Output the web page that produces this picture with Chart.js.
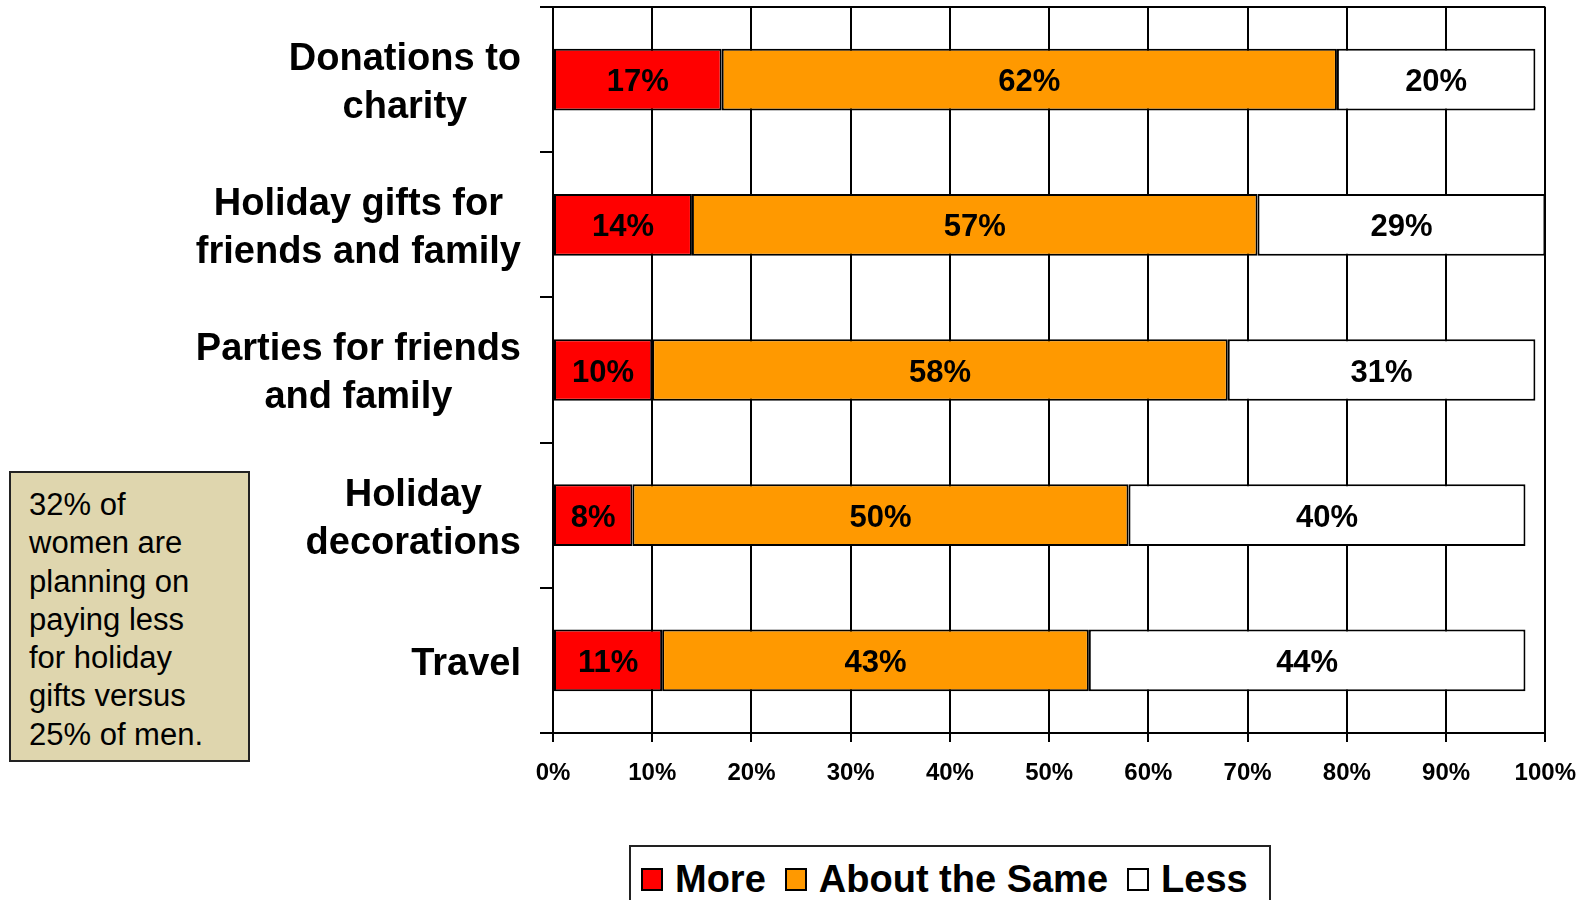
<!DOCTYPE html>
<html>
<head>
<meta charset="utf-8">
<script src="https://cdn.jsdelivr.net/npm/chart.js@4.4.0/dist/chart.umd.min.js"></script>
<style>
  body { margin: 0; background: #fff; overflow: hidden; font-family: "Liberation Sans", Arial, sans-serif; }
  #wrap { position: relative; width: 1593px; height: 900px; }
  #note {
    position: absolute; left: 9px; top: 471px; width: 241px; height: 291px;
    background: #dfd6ae; border: 2px solid #222; box-sizing: border-box;
    padding: 13px 0 0 18px; font-size: 31px; line-height: 38.3px; color: #000;
  }
  #legend {
    position: absolute; left: 629px; top: 845px; width: 642px; height: 80px;
    border: 2px solid #222; box-sizing: border-box; background: #fff;
    display: flex; align-items: flex-start; padding: 13px 0 0 10px;
    font-size: 38px; font-weight: bold; line-height: 38px; color: #000;
    white-space: nowrap; overflow: hidden;
  }
  #legend .item { display: flex; align-items: center; flex-shrink: 0; margin-right: 19px; }
  #legend .sw { width: 22px; height: 23px; border: 2px solid #000; box-sizing: border-box; margin-right: 12px; flex-shrink: 0; }
</style>
</head>
<body>
<div id="wrap">
  <canvas id="myChart" width="1593" height="900"></canvas>
  <div id="note">32% of<br>women are<br>planning on<br>paying less<br>for holiday<br>gifts versus<br>25% of men.</div>
  <div id="legend"></div>
</div>
<script>
/* DATA */

const categories = [
  ['Donations to', 'charity'],
  ['Holiday gifts for', 'friends and family'],
  ['Parties for friends', 'and family'],
  ['Holiday', 'decorations'],
  ['Travel']
];
const more = [17, 14, 10, 8, 11];
const aboutSame = [62, 57, 58, 50, 43];
const less = [20, 29, 31, 40, 44];
const xTicks = [0, 10, 20, 30, 40, 50, 60, 70, 80, 90, 100];

const FONT = '"Liberation Sans", Arial, sans-serif';

/* LABELS ON BARS + CATEGORY NAMES */

const labelsPlugin = {
  id: 'labelsPlugin',
  afterDatasetsDraw(chart) {
    const ctx = chart.ctx;
    ctx.save();
    ctx.fillStyle = '#000';
    ctx.textAlign = 'center';
    ctx.textBaseline = 'middle';
    ctx.font = 'bold 31px ' + FONT;
    chart.data.datasets.forEach(function(ds, i) {
      chart.getDatasetMeta(i).data.forEach(function(bar, j) {
        ctx.fillText(ds.data[j] + '%', (bar.x + bar.base) / 2, bar.y + 3);
      });
    });

    // category names: lines centered inside a right-aligned block
    const yScale = chart.scales.y;
    const right = chart.chartArea.left - 32;
    ctx.font = 'bold 38px ' + FONT;
    categories.forEach(function(lines, j) {
      const yc = yScale.getPixelForValue(j) + 4;
      const w = Math.max.apply(null, lines.map(function(l) { return ctx.measureText(l).width; }));
      lines.forEach(function(l, k) {
        ctx.fillText(l, right - w / 2, yc + (k - (lines.length - 1) / 2) * 48);
      });
    });

    // top frame line
    ctx.strokeStyle = '#000';
    ctx.lineWidth = 2;
    ctx.beginPath();
    ctx.moveTo(chart.chartArea.left, chart.chartArea.top);
    ctx.lineTo(chart.chartArea.right, chart.chartArea.top);
    ctx.stroke();
    ctx.restore();
  }
};

/* CHART */

const ctx = document.getElementById('myChart').getContext('2d');

const chart = new Chart(ctx, {
  type: 'bar',
  data: {
    labels: categories.map(function(c) { return c.join(' '); }),
    datasets: [
      { label: 'More', data: more, backgroundColor: '#ff0000' },
      { label: 'About the Same', data: aboutSame, backgroundColor: '#ff9900' },
      { label: 'Less', data: less, backgroundColor: '#ffffff' }
    ].map(function(d) {
      return Object.assign(d, {
        borderColor: '#000', borderWidth: 2, borderSkipped: false,
        categoryPercentage: 1, barPercentage: 0.425
      });
    })
  },
  options: {
    indexAxis: 'y',
    responsive: false,
    animation: false,
    layout: { padding: { top: 7, right: 44, left: 0, bottom: 0 } },
    plugins: { legend: { display: false }, tooltip: { enabled: false } },
    scales: {
      x: {
        stacked: true,
        min: 0,
        max: 100,
        afterBuildTicks: function(s) { s.ticks = xTicks.map(function(v) { return { value: v }; }); },
        afterFit: function(s) { s.height = 167; },
        ticks: {
          color: '#000',
          padding: 17,
          maxRotation: 0,
          font: { family: FONT, size: 24, weight: 'bold' },
          callback: function(v) { return v + '%'; }
        },
        grid: { color: '#000', lineWidth: 2, tickLength: 9 },
        border: { color: '#000', width: 2 }
      },
      y: {
        stacked: true,
        afterFit: function(s) { s.width = 553; },
        ticks: { display: false },
        grid: { offset: true, drawOnChartArea: false, color: '#000', lineWidth: 2, tickLength: 13 },
        border: { color: '#000', width: 2 }
      }
    }
  },
  plugins: [labelsPlugin]
});

/* LEGEND */

const legend = document.getElementById('legend');
chart.data.datasets.forEach(function(ds) {
  const item = document.createElement('div');
  item.className = 'item';
  item.innerHTML = '<span class="sw" style="background:' + ds.backgroundColor + '"></span>' + ds.label;
  legend.appendChild(item);
});
</script>
</body>
</html>
